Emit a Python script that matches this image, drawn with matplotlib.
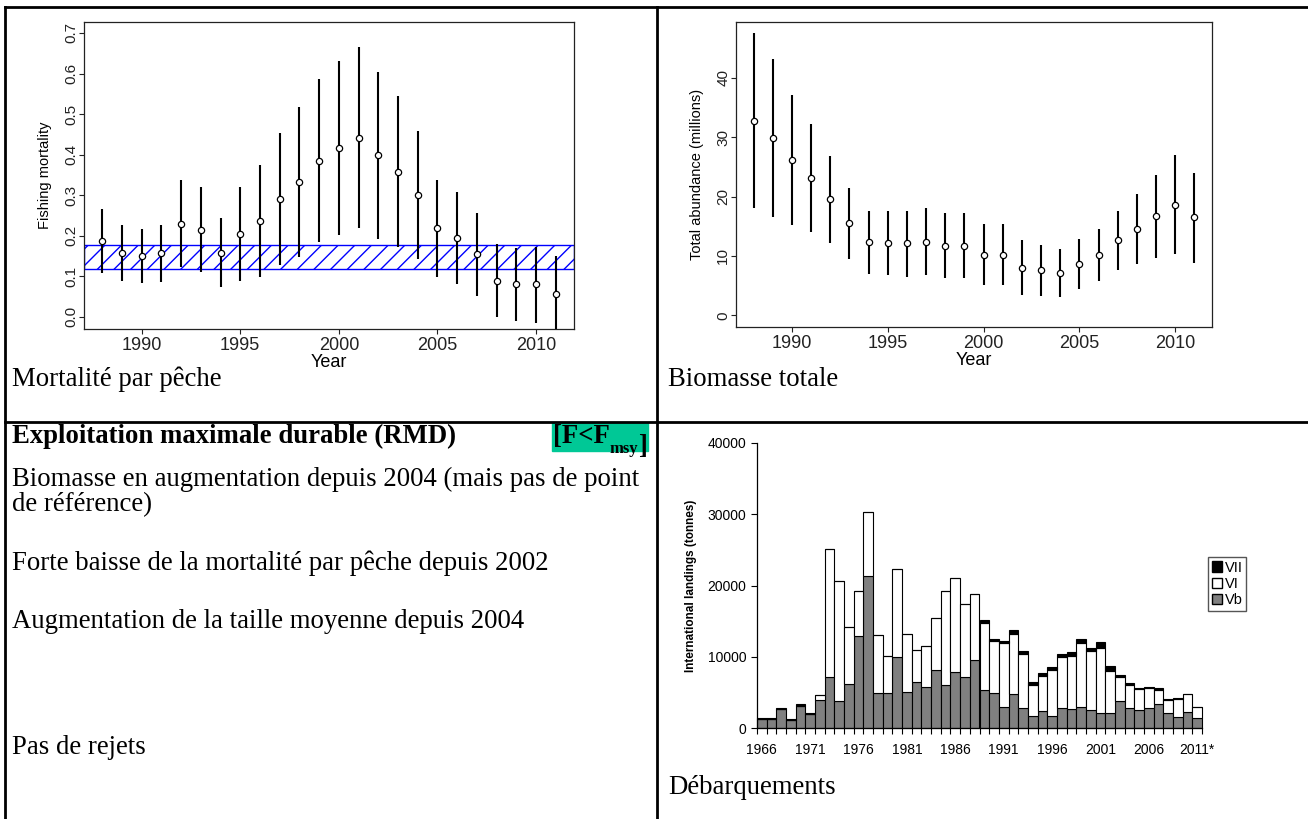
import numpy as np
import matplotlib
matplotlib.use("Agg")
import matplotlib.pyplot as plt
from matplotlib.patches import Rectangle, Patch
from matplotlib import font_manager

W, H = 1308, 819

# --- fishing mortality (top left) ---
years = np.arange(1988, 2012)
f_est = [0.188, 0.158, 0.150, 0.157, 0.229, 0.215, 0.158, 0.205, 0.237, 0.290, 0.332, 0.385,
         0.416, 0.442, 0.399, 0.357, 0.301, 0.219, 0.195, 0.154, 0.089, 0.081, 0.081, 0.056]
f_high = [0.266, 0.226, 0.216, 0.227, 0.337, 0.320, 0.243, 0.320, 0.375, 0.454, 0.518, 0.586,
          0.631, 0.665, 0.604, 0.544, 0.458, 0.338, 0.308, 0.256, 0.179, 0.169, 0.173, 0.149]
f_low = [0.108, 0.089, 0.083, 0.087, 0.122, 0.111, 0.073, 0.089, 0.098, 0.127, 0.147, 0.184,
         0.201, 0.219, 0.193, 0.173, 0.142, 0.099, 0.082, 0.052, 0.000, -0.011, -0.014, -0.035]
fmsy_band = (0.118, 0.178)

# --- total abundance (top right) ---
n_est = [32.75, 29.8, 26.1, 23.1, 19.55, 15.5, 12.4, 12.2, 12.1, 12.4, 11.7, 11.6,
         10.2, 10.2, 8.0, 7.6, 7.1, 8.6, 10.2, 12.6, 14.5, 16.7, 18.65, 16.5]
n_high = [47.5, 43.1, 37.1, 32.2, 26.8, 21.5, 17.6, 17.6, 17.6, 18.0, 17.3, 17.2,
          15.4, 15.4, 12.7, 11.8, 11.2, 12.8, 14.5, 17.6, 20.5, 23.65, 27.0, 24.05]
n_low = [18.0, 16.6, 15.2, 14.0, 12.25, 9.44, 7.0, 6.8, 6.5, 6.8, 6.3, 6.2,
         5.1, 5.1, 3.4, 3.2, 3.1, 4.4, 5.8, 7.6, 8.65, 9.7, 10.4, 8.76]

# --- landings (bottom right), tonnes ---
land_years = [str(y) for y in range(1966, 2011)] + ["2011*"]
vb = [1300, 1300, 2650, 1080, 3150, 2000, 3950, 7200, 3850, 6200, 12900, 21300, 4900, 4900,
      10000, 5050, 6450, 5750, 8100, 6050, 7850, 7200, 9550, 5300, 4900, 3000, 4750, 2850,
      1700, 2450, 1700, 2800, 2650, 2950, 2550, 2150, 2100, 3850, 2750, 2550, 2850, 3400,
      2150, 1550, 2300, 1450]
vi = [0, 0, 0, 0, 0, 0, 750, 17900, 16750, 7950, 6300, 9000, 8150, 5150,
      12300, 8150, 4500, 5700, 7350, 13150, 13150, 10200, 9300, 9450, 7250, 8950, 8500, 7550,
      4300, 4900, 6400, 7150, 7400, 9000, 8300, 9100, 5900, 3350, 3350, 2900, 2750, 2000,
      1800, 2550, 2500, 1500]
vii = [100, 100, 200, 200, 200, 50, 0, 0, 0, 0, 0, 0, 0, 0,
       0, 0, 0, 0, 0, 0, 0, 0, 0, 450, 350, 300, 500, 400,
       400, 300, 500, 450, 650, 550, 400, 850, 750, 250, 200, 150, 100, 250,
       50, 50, 0, 0]

texts = [
    ("Biomasse en augmentation depuis 2004 (mais pas de point", 479),
    ("de référence)", 505),
    ("Forte baisse de la mortalité par pêche depuis 2002", 563),
    ("Augmentation de la taille moyenne depuis 2004", 622),
    ("Pas de rejets", 748),
]

installed = {f.name for f in font_manager.fontManager.ttflist}
sans = "Liberation Sans" if "Liberation Sans" in installed else "DejaVu Sans"
narrow = "Liberation Sans Narrow" if "Liberation Sans Narrow" in installed else sans
serif = "Liberation Serif" if "Liberation Serif" in installed else "DejaVu Serif"
plt.rcParams["font.family"] = sans

FS = 19.3  # caption / cell text size


def px_axes(fig, x0, y0, x1, y1):
    return fig.add_axes([x0 / W, 1 - y1 / H, (x1 - x0) / W, (y1 - y0) / H])


def r_style(ax):
    for s in ax.spines.values():
        s.set_linewidth(0.9)
        s.set_color("#222222")
    ax.tick_params(direction="out", length=3.6, width=0.8, colors="#222222")
    ax.tick_params(axis="x", labelsize=13, pad=2)
    ax.tick_params(axis="y", labelsize=11, pad=0.5, labelrotation=90)
    for lab in ax.get_yticklabels():
        lab.set_va("center")


fig = plt.figure(figsize=(W / 100, H / 100), dpi=100)

# table background with cell borders and text
bg = fig.add_axes([0, 0, 1, 1])
bg.set_xlim(0, W)
bg.set_ylim(H, 0)
bg.axis("off")
lw = 2
bg.plot([5, W], [7, 7], color="black", lw=lw)
bg.plot([5, W], [422, 422], color="black", lw=lw)
bg.plot([5, 5], [7, H], color="black", lw=lw)
bg.plot([657, 657], [7, H], color="black", lw=lw)

cap = dict(family=serif, fontsize=FS, va="center", ha="left")
bg.text(12, 379, "Mortalité par pêche", **cap)
bg.text(668, 379, "Biomasse totale", **cap)
bg.text(668, 787, "Débarquements", **cap)
bg.text(12, 443, "Exploitation maximale durable (RMD)", family=serif, fontsize=FS,
        fontweight="bold", va="baseline", ha="left")
for line, yy in texts:
    bg.text(12, yy, line, **cap)

bg.add_patch(Rectangle((552, 423), 96, 28, color="#00c896", zorder=1))
t1 = bg.text(553, 443, "[F<F", family=serif, fontsize=FS, fontweight="bold",
             va="baseline", ha="left", zorder=2)
t2 = bg.annotate("msy", xy=(1, 0), xycoords=t1, xytext=(0, -3), textcoords="offset points",
                 family=serif, fontsize=12, fontweight="bold", va="baseline", ha="left", zorder=2)
bg.annotate("]", xy=(1, 0), xycoords=t2, xytext=(0, 3), textcoords="offset points",
            family=serif, fontsize=FS, fontweight="bold", va="baseline", ha="left", zorder=2)

# fishing mortality
ax1 = px_axes(fig, 84, 22, 574, 329)
ax1.axhspan(fmsy_band[0], fmsy_band[1], facecolor="none", edgecolor="blue", hatch="//", lw=1)
ax1.vlines(years, f_low, f_high, color="black", lw=1.5)
ax1.plot(years, f_est, "o", mfc="white", mec="black", ms=4.5, mew=0.9)
ax1.set_xlim(1987.08, 2011.92)
ax1.set_ylim(-0.030, 0.727)
ax1.set_xticks([1990, 1995, 2000, 2005, 2010])
ax1.set_yticks(np.arange(0, 0.71, 0.1))
ax1.set_yticklabels([f"{v:.1f}" for v in np.arange(0, 0.71, 0.1)])
r_style(ax1)
ax1.set_xlabel("Year", fontsize=13, labelpad=0)
ax1.set_ylabel("Fishing mortality", family=narrow, fontsize=10.5, labelpad=9)

# total abundance
ax2 = px_axes(fig, 736, 22, 1212, 327)
ax2.vlines(years, n_low, n_high, color="black", lw=1.5)
ax2.plot(years, n_est, "o", mfc="white", mec="black", ms=4.5, mew=0.9)
ax2.set_xlim(1987.08, 2011.92)
ax2.set_ylim(-1.97, 49.4)
ax2.set_xticks([1990, 1995, 2000, 2005, 2010])
ax2.set_yticks([0, 10, 20, 30, 40])
r_style(ax2)
ax2.set_xlabel("Year", fontsize=13, labelpad=0)
ax2.set_ylabel("Total abundance (millions)", family=narrow, fontsize=10.5, labelpad=9)

# landings
ax3 = px_axes(fig, 757, 443, 1202, 728)
x = np.arange(len(land_years))
vb_arr = np.array(vb)
vi_arr = np.array(vi)
ax3.bar(x, vb, width=1, color="#808080", edgecolor="black", lw=0.8, label="Vb")
ax3.bar(x, vi, width=1, bottom=vb_arr, color="white", edgecolor="black", lw=0.8, label="VI")
ax3.bar(x, vii, width=1, bottom=vb_arr + vi_arr, color="black", edgecolor="black", lw=0.8,
        label="VII")
for p in ax3.patches:
    p.set_clip_on(False)
ax3.set_xlim(-0.5, len(land_years) - 0.5)
ax3.set_ylim(0, 40000)
ax3.spines["top"].set_visible(False)
ax3.spines["right"].set_visible(False)
ax3.spines["left"].set_linewidth(0.9)
ax3.spines["bottom"].set_linewidth(0.9)
ax3.set_yticks([0, 10000, 20000, 30000, 40000])
ax3.set_xticks(np.arange(-0.5, len(land_years), 1))
ax3.set_xticklabels([])
ax3.set_xticks(x[::5], minor=True)
ax3.set_xticklabels(land_years[::5], minor=True)
ax3.tick_params(axis="both", which="major", direction="out", length=4, width=0.8, labelsize=10)
ax3.tick_params(axis="x", which="minor", length=0, labelsize=10, pad=11)
ax3.get_xticklabels(minor=True)[-1].set_x(x[-1] - 0.4)
ax3.set_ylabel("International landings (tonnes)", fontsize=8.5, fontweight="bold", labelpad=8)

handles = [Patch(facecolor="black", edgecolor="black", label="VII"),
           Patch(facecolor="white", edgecolor="black", label="VI"),
           Patch(facecolor="#808080", edgecolor="black", label="Vb")]
fig.legend(handles=handles, loc="upper left", bbox_to_anchor=(1208 / W, 1 - 557 / H),
           fontsize=10.5, frameon=True, fancybox=False, edgecolor="#555555", framealpha=1,
           handlelength=0.7, handleheight=0.7, handletextpad=0.2, borderpad=0.25,
           labelspacing=0.15, borderaxespad=0)

fig.savefig("out.png", dpi=100)
